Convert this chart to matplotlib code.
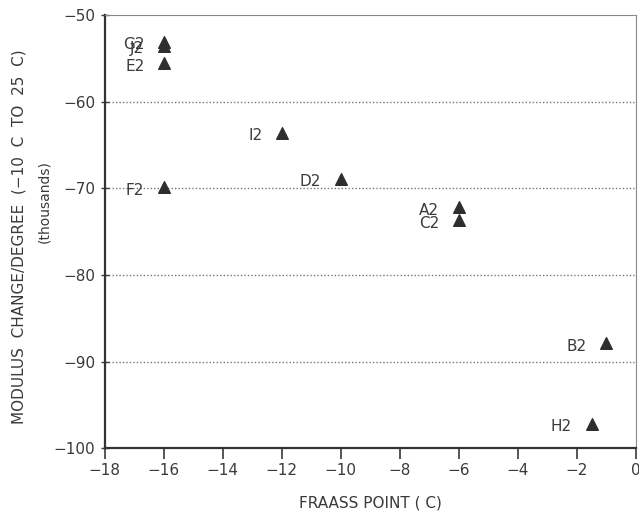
import matplotlib.pyplot as plt
import numpy as np

# Fraass point vs modulus change per degree (thousands)
labels = ['G2', 'J2', 'E2', 'I2', 'F2', 'D2', 'A2', 'C2', 'B2', 'H2']
fraass = [-16.0, -16.0, -16.0, -12.0, -16.0, -10.0, -6.0, -6.0, -1.0, -1.5]
modulus = [-53.1, -53.6, -55.6, -63.6, -69.9, -68.9, -72.2, -73.7, -87.9, -97.2]

xticks = np.arange(-18, 1, 2)
yticks = np.arange(-100, -49, 10)

fig = plt.figure(figsize=(6.39, 5.31), dpi=100)
ax = fig.add_axes([0.164, 0.156, 0.831, 0.816])

txt = '#3a3a3a'
ax.scatter(fraass, modulus, marker='^', s=70, color='#2e2e2e', zorder=3)
for lab, x, y in zip(labels, fraass, modulus):
    ax.annotate(lab, (x, y), xytext=(-14, -2), textcoords='offset points',
                ha='right', va='center', fontsize=11, color=txt)

for y in [-60, -70, -80, -90]:
    ax.axhline(y, color='#777777', linestyle=(0, (1, 1.5)), linewidth=1.0, zorder=1)

ax.set_xlim(-18, 0)
ax.set_ylim(-100, -50)
ax.set_xticks(xticks)
ax.set_yticks(yticks)
ax.set_xticklabels(['\u2212%d' % abs(v) if v else '0' for v in xticks])
ax.set_yticklabels(['\u2212%d' % abs(v) for v in yticks])
ax.tick_params(axis='x', direction='out', length=8, width=1.2, colors=txt,
               labelsize=11, pad=3)
ax.tick_params(axis='y', direction='inout', length=6, width=1.0, colors=txt,
               labelsize=11, pad=4)

for s in ['left', 'bottom']:
    ax.spines[s].set_linewidth(1.6)
    ax.spines[s].set_color('#333333')
for s in ['top', 'right']:
    ax.spines[s].set_linewidth(0.8)
    ax.spines[s].set_color('#888888')

ax.set_xlabel('FRAASS POINT ( C)', fontsize=11, color=txt, labelpad=12)
fig.text(0.03, 0.555, 'MODULUS  CHANGE/DEGREE  (\u221210  C  TO  25  C)', rotation=90,
         ha='center', va='center', fontsize=11, color=txt)
fig.text(0.07, 0.62, '(thousands)', rotation=90, ha='center', va='center',
         fontsize=10, color=txt)

fig.savefig('out.png', dpi=100)
